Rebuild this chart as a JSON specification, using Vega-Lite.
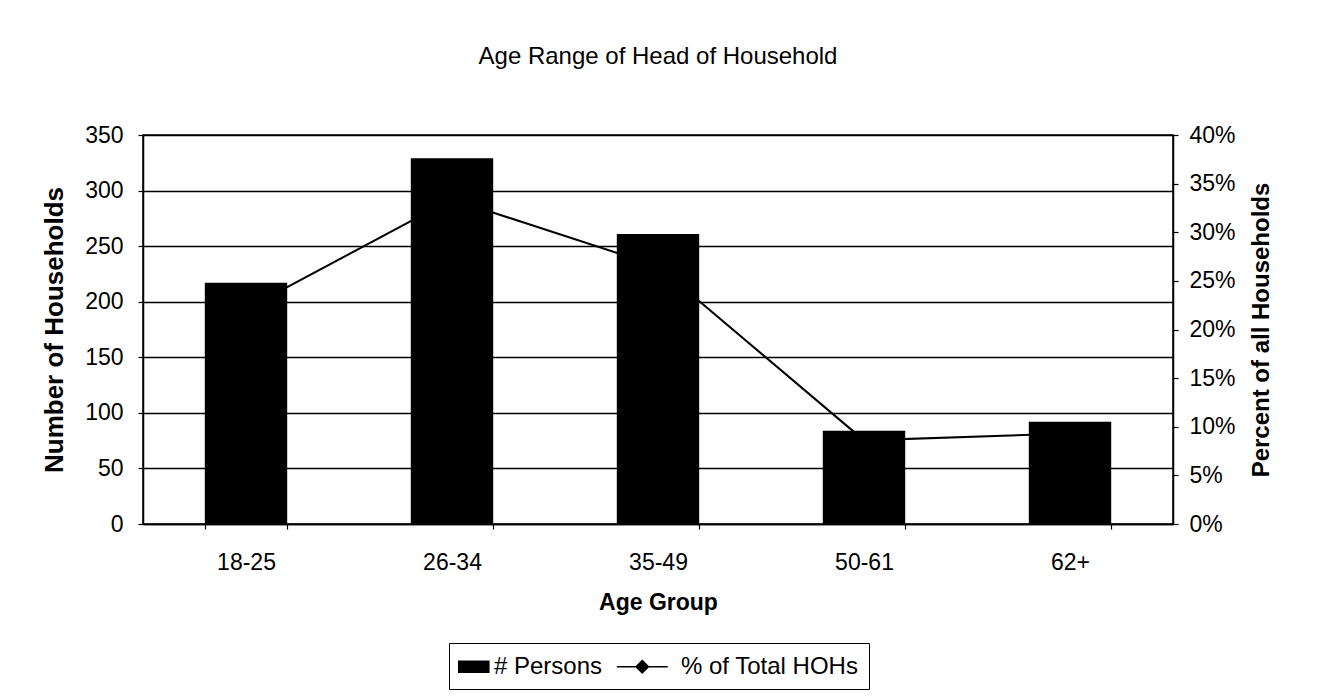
{
  "$schema": "https://vega.github.io/schema/vega-lite/v6.json",
  "autosize": "none",
  "width": 1030,
  "height": 389,
  "padding": {"left": 143, "top": 135, "right": 144, "bottom": 173},
  "background": "white",
  "title": {
    "text": "Age Range of Head of Household",
    "font": "Liberation Sans",
    "fontSize": 24,
    "fontWeight": "normal",
    "color": "black",
    "anchor": "middle",
    "offset": 55
  },
  "config": {
    "font": "Liberation Sans",
    "view": {"stroke": "black", "strokeWidth": 1.5},
    "axis": {
      "labelFont": "Liberation Sans",
      "titleFont": "Liberation Sans",
      "labelColor": "black",
      "titleColor": "black",
      "labelFontSize": 23,
      "titleFontSize": 23,
      "titleFontWeight": "bold",
      "domainColor": "black",
      "tickColor": "black",
      "gridColor": "black",
      "domainWidth": 1.5,
      "tickWidth": 1.2
    }
  },
  "data": {
    "values": [
      {"age": "18-25", "persons": 217, "pct": 0.221, "series": "# Persons"},
      {"age": "26-34", "persons": 329, "pct": 0.334, "series": "# Persons"},
      {"age": "35-49", "persons": 261, "pct": 0.265, "series": "# Persons"},
      {"age": "50-61", "persons": 84, "pct": 0.086, "series": "# Persons"},
      {"age": "62+", "persons": 92, "pct": 0.093, "series": "# Persons"}
    ]
  },
  "encoding": {
    "x": {
      "field": "age",
      "type": "nominal",
      "sort": null,
      "scale": {"paddingInner": 0.6, "paddingOuter": 0.3},
      "axis": {
        "title": "Age Group",
        "labelAngle": 0,
        "labelPadding": 22,
        "titlePadding": 17,
        "tickBand": "extent",
        "tickSize": 5,
        "grid": false
      }
    }
  },
  "layer": [
    {
      "mark": {"type": "bar", "color": "black"},
      "encoding": {
        "y": {
          "field": "persons",
          "type": "quantitative",
          "scale": {"domain": [0, 350], "nice": false},
          "axis": {
            "title": "Number of Households",
            "titleFontSize": 26,
            "values": [0, 50, 100, 150, 200, 250, 300, 350],
            "grid": true,
            "gridWidth": 1.3,
            "tickSize": 5,
            "labelPadding": 15,
            "titlePadding": 17
          }
        },
        "color": {
          "field": "series",
          "type": "nominal",
          "scale": {"domain": ["# Persons", "% of Total HOHs"], "range": ["black", "black"]},
          "legend": {
            "title": null,
            "orient": "none",
            "legendX": 306,
            "legendY": 508,
            "direction": "horizontal",
            "strokeColor": "black",
            "fillColor": "white",
            "padding": 10,
            "labelFont": "Liberation Sans",
            "labelFontSize": 24,
            "labelColor": "black",
            "labelLimit": 400,
            "symbolSize": 600,
            "columnPadding": 10,
            "labelOffset": 8,
            "encode": {
              "symbols": {
                "update": {
                  "shape": {"signal": "datum.label === '# Persons' ? 'M-1.12,-0.45H1.33V0.45H-1.12Z' : 'M-3.49,0H0.67M-1.41,-0.5L-0.91,0L-1.41,0.5L-1.91,0Z'"},
                  "fill": {"value": "black"},
                  "stroke": {"value": "black"},
                  "strokeWidth": {"value": 1.6}
                }
              }
            }
          }
        }
      }
    },
    {
      "transform": [{"calculate": "'% of Total HOHs'", "as": "series"}],
      "mark": {"type": "line", "color": "black", "strokeWidth": 2, "point": {"shape": "diamond", "size": 90, "filled": true, "color": "black"}},
      "encoding": {
        "y": {
          "field": "pct",
          "type": "quantitative",
          "scale": {"domain": [0, 0.4], "nice": false},
          "axis": {
            "title": "Percent of all Households",
            "titleFontSize": 24,
            "orient": "right",
            "format": ".0%",
            "values": [0, 0.05, 0.1, 0.15, 0.2, 0.25, 0.3, 0.35, 0.4],
            "grid": false,
            "tickSize": 5,
            "labelPadding": 11,
            "titleAngle": 270,
            "titleBaseline": "top",
            "titlePadding": 14
          }
        },
        "color": {"field": "series", "type": "nominal"}
      }
    }
  ],
  "resolve": {"scale": {"y": "independent"}}
}
